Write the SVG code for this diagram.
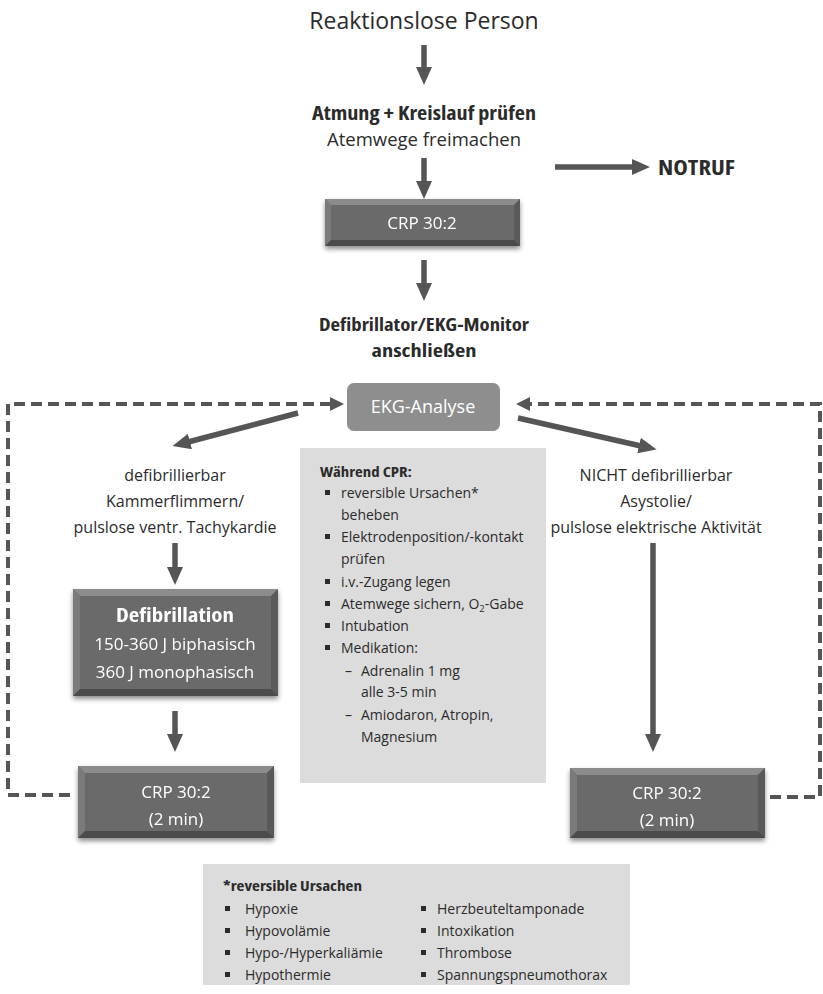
<svg xmlns="http://www.w3.org/2000/svg" width="823" height="994" viewBox="0 0 823 994">
<style>
text{font-family:"Open Sans","DejaVu Sans",sans-serif;fill:#2b2b2b}
.t{font-size:16px;text-anchor:middle}
.b{font-weight:bold;font-stretch:condensed}
.w{fill:#fff;text-anchor:middle}
.p{font-size:14px}
.q{font-size:14px}
.arr{stroke:#555;stroke-width:5.5;fill:none}
.dash{stroke:#555;stroke-width:4;fill:none;stroke-dasharray:11 6}
.bul{fill:#2b2b2b}
</style>
<defs>
<marker id="ah" markerUnits="userSpaceOnUse" markerWidth="20" markerHeight="18" refX="2" refY="8" orient="auto"><path d="M0,0 L18,8 L0,16 z" fill="#555"/></marker>
<marker id="ahd" markerUnits="userSpaceOnUse" markerWidth="16" markerHeight="16" refX="2" refY="7" orient="auto"><path d="M0,0 L14,7 L0,14 z" fill="#555"/></marker>
<filter id="sh" x="-10%" y="-10%" width="120%" height="140%"><feDropShadow dx="0" dy="3" stdDeviation="2.5" flood-color="#000" flood-opacity="0.45"/></filter>
</defs>

<g id="connectors">
<line class="arr" x1="424" y1="45" x2="424" y2="69" marker-end="url(#ah)"/>
<line class="arr" x1="424" y1="158" x2="424" y2="183" marker-end="url(#ah)"/>
<line class="arr" x1="555" y1="167" x2="634" y2="167" marker-end="url(#ah)"/>
<line class="arr" x1="424" y1="260" x2="424" y2="285" marker-end="url(#ah)"/>
<line class="arr" x1="298" y1="413" x2="188" y2="442" marker-end="url(#ah)"/>
<line class="arr" x1="518" y1="418" x2="641" y2="446" marker-end="url(#ah)"/>
<line class="arr" x1="175" y1="543" x2="175" y2="569" marker-end="url(#ah)"/>
<line class="arr" x1="175" y1="711" x2="175" y2="736" marker-end="url(#ah)"/>
<line class="arr" x1="653" y1="543" x2="653" y2="736" marker-end="url(#ah)"/>
<path class="dash" d="M70,795 H8 V404 H332" marker-end="url(#ahd)"/>
<path class="dash" d="M770,797 H820 V404 H528" marker-end="url(#ahd)"/>
</g>

<g id="n-start"><text class="t" x="424" y="29" style="font-size:23px">Reaktionslose Person</text></g>
<g id="n-atmung">
<text class="t b" x="424" y="120" style="font-size:19px" textLength="224" lengthAdjust="spacingAndGlyphs">Atmung + Kreislauf prüfen</text>
<text class="t" x="424" y="146" style="font-size:18.5px">Atemwege freimachen</text>
</g>
<g id="n-notruf"><text class="b" x="658" y="175" style="font-size:21px" textLength="77" lengthAdjust="spacingAndGlyphs">NOTRUF</text></g>

<g id="n-crp1" filter="url(#sh)">
<rect x="325" y="199" width="195" height="47" fill="#6b6b6b"/>
<polygon points="325,199 520,199 514,205 331,205" fill="#8c8c8c"/>
<polygon points="325,199 331,205 331,240 325,246" fill="#7a7a7a"/>
<polygon points="520,199 514,205 514,240 520,246" fill="#5a5a5a"/>
<polygon points="325,246 331,240 514,240 520,246" fill="#4c4c4c"/>
<text class="w" x="422" y="229" style="font-size:17px">CRP 30:2</text>
</g>

<g id="n-defi-connect">
<text class="t b" x="424" y="331" style="font-size:18px" textLength="210" lengthAdjust="spacingAndGlyphs">Defibrillator/EKG-Monitor</text>
<text class="t b" x="424" y="357" style="font-size:18px" textLength="105" lengthAdjust="spacingAndGlyphs">anschließen</text>
</g>

<g id="n-ekg">
<rect x="347" y="383" width="153" height="48" rx="7" fill="#8e8e8e"/>
<text class="w" x="423" y="413" style="font-size:18px">EKG-Analyse</text>
</g>

<g id="n-left-label">
<text class="t" x="175" y="481">defibrillierbar</text>
<text class="t" x="175" y="507">Kammerflimmern/</text>
<text class="t" x="175" y="533">pulslose ventr. Tachykardie</text>
</g>

<g id="n-right-label">
<text class="t" x="656" y="481">NICHT defibrillierbar</text>
<text class="t" x="656" y="507">Asystolie/</text>
<text class="t" x="656" y="533">pulslose elektrische Aktivität</text>
</g>

<g id="n-defibrillation" filter="url(#sh)">
<rect x="73" y="589" width="205" height="107" fill="#6b6b6b"/>
<polygon points="73,589 278,589 271,596 80,596" fill="#8c8c8c"/>
<polygon points="73,589 80,596 80,689 73,696" fill="#7a7a7a"/>
<polygon points="278,589 271,596 271,689 278,696" fill="#5a5a5a"/>
<polygon points="73,696 80,689 271,689 278,696" fill="#4c4c4c"/>
<text class="w b" x="175" y="622" style="font-size:20px" textLength="118" lengthAdjust="spacingAndGlyphs">Defibrillation</text>
<text class="w" x="175" y="650" style="font-size:17px">150-360 J biphasisch</text>
<text class="w" x="175" y="678" style="font-size:17px">360 J monophasisch</text>
</g>

<g id="n-crp-left" filter="url(#sh)">
<rect x="78" y="766" width="196" height="72" fill="#6b6b6b"/>
<polygon points="78,766 274,766 267,773 85,773" fill="#8c8c8c"/>
<polygon points="78,766 85,773 85,831 78,838" fill="#7a7a7a"/>
<polygon points="274,766 267,773 267,831 274,838" fill="#5a5a5a"/>
<polygon points="78,838 85,831 267,831 274,838" fill="#4c4c4c"/>
<text class="w" x="176" y="798" style="font-size:17px">CRP 30:2</text>
<text class="w" x="176" y="825" style="font-size:17px">(2 min)</text>
</g>

<g id="n-crp-right" filter="url(#sh)">
<rect x="570" y="768" width="195" height="70" fill="#6b6b6b"/>
<polygon points="570,768 765,768 758,775 577,775" fill="#8c8c8c"/>
<polygon points="570,768 577,775 577,831 570,838" fill="#7a7a7a"/>
<polygon points="765,768 758,775 758,831 765,838" fill="#5a5a5a"/>
<polygon points="570,838 577,831 758,831 765,838" fill="#4c4c4c"/>
<text class="w" x="667" y="799" style="font-size:17px">CRP 30:2</text>
<text class="w" x="667" y="826" style="font-size:17px">(2 min)</text>
</g>

<g id="n-waehrend">
<rect x="300" y="448" width="246" height="335" fill="#dcdcdc"/>
<text class="p b" x="320" y="477" style="font-size:14.5px" textLength="92" lengthAdjust="spacingAndGlyphs">Während CPR:</text>
<rect class="bul" x="325" y="490" width="5" height="5"/>
<text class="p" x="341" y="498">reversible Ursachen*</text>
<text class="p" x="341" y="520">beheben</text>
<rect class="bul" x="325" y="534" width="5" height="5"/>
<text class="p" x="341" y="542">Elektrodenposition/-kontakt</text>
<text class="p" x="341" y="564">prüfen</text>
<rect class="bul" x="325" y="579" width="5" height="5"/>
<text class="p" x="341" y="587">i.v.-Zugang legen</text>
<rect class="bul" x="325" y="601" width="5" height="5"/>
<text class="p" x="341" y="609">Atemwege sichern, O<tspan font-size="9.5" dy="3">2</tspan><tspan dy="-3">-Gabe</tspan></text>
<rect class="bul" x="325" y="623" width="5" height="5"/>
<text class="p" x="341" y="631">Intubation</text>
<rect class="bul" x="325" y="645" width="5" height="5"/>
<text class="p" x="341" y="653">Medikation:</text>
<text class="p" x="345" y="676">–</text>
<text class="p" x="361" y="676">Adrenalin 1 mg</text>
<text class="p" x="361" y="697">alle 3-5 min</text>
<text class="p" x="345" y="720">–</text>
<text class="p" x="361" y="720">Amiodaron, Atropin,</text>
<text class="p" x="361" y="742">Magnesium</text>
</g>

<g id="n-ursachen">
<rect x="203" y="864" width="427" height="121" fill="#dcdcdc"/>
<text class="q b" x="223" y="891" style="font-size:15px" textLength="139" lengthAdjust="spacingAndGlyphs">*reversible Ursachen</text>
<rect class="bul" x="225" y="906" width="5" height="5"/>
<text class="q" x="245" y="914">Hypoxie</text>
<rect class="bul" x="225" y="928" width="5" height="5"/>
<text class="q" x="245" y="936">Hypovolämie</text>
<rect class="bul" x="225" y="950" width="5" height="5"/>
<text class="q" x="245" y="958">Hypo-/Hyperkaliämie</text>
<rect class="bul" x="225" y="972" width="5" height="5"/>
<text class="q" x="245" y="980">Hypothermie</text>
<rect class="bul" x="421" y="906" width="5" height="5"/>
<text class="q" x="437" y="914">Herzbeuteltamponade</text>
<rect class="bul" x="421" y="928" width="5" height="5"/>
<text class="q" x="437" y="936">Intoxikation</text>
<rect class="bul" x="421" y="950" width="5" height="5"/>
<text class="q" x="437" y="958">Thrombose</text>
<rect class="bul" x="421" y="972" width="5" height="5"/>
<text class="q" x="437" y="980">Spannungspneumothorax</text>
</g>
</svg>
